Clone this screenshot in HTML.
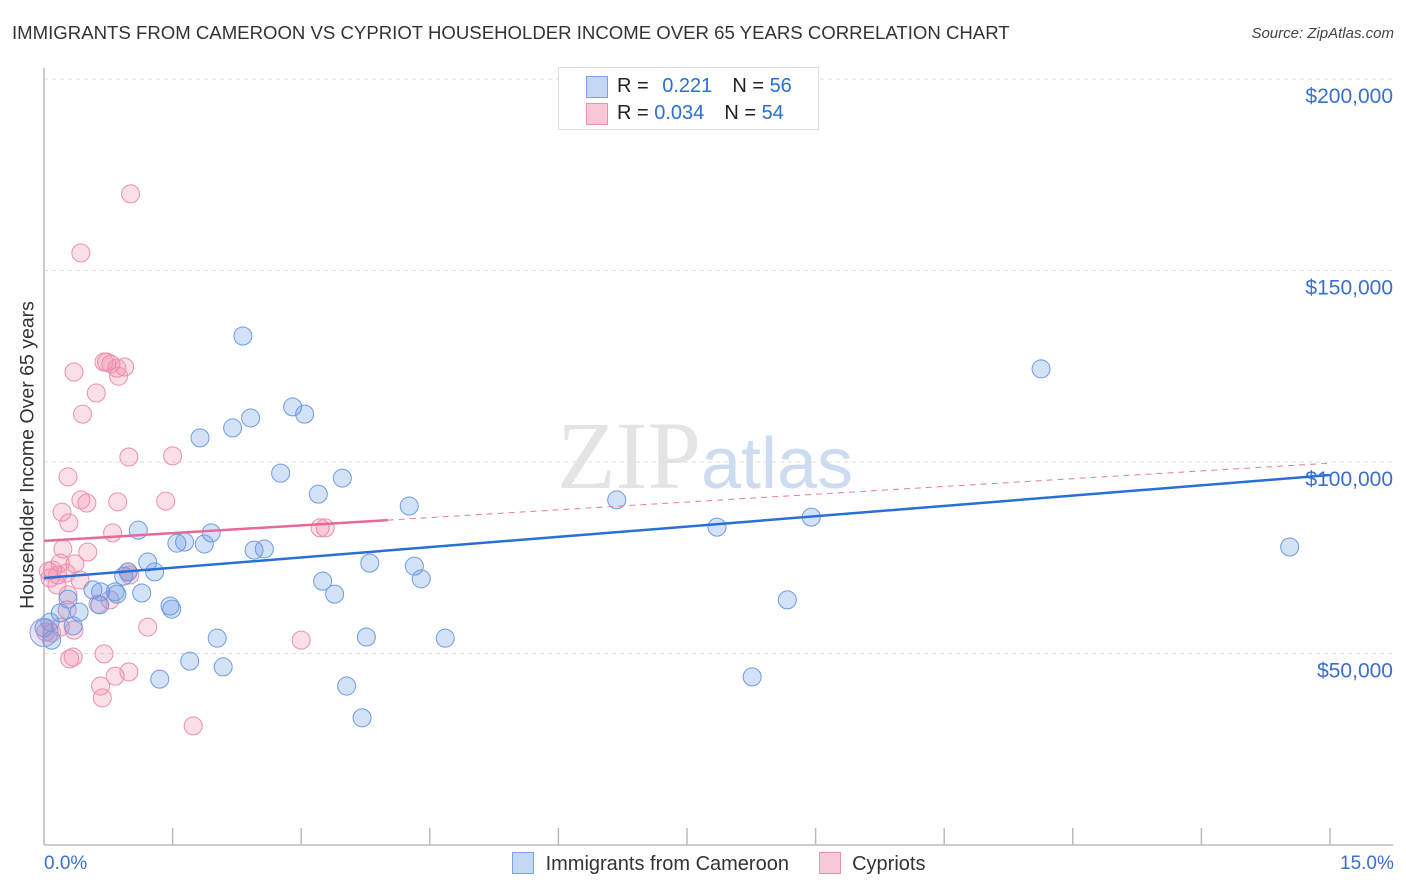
<!DOCTYPE html>
<html><head><meta charset="utf-8"><style>
body{margin:0;background:#fff;font-family:"Liberation Sans",sans-serif;}
#wrap{position:relative;width:1406px;height:892px;overflow:hidden;}
.t{position:absolute;white-space:nowrap;}
</style></head><body>
<div id="wrap">
<div class="t" style="left:12px;top:22px;font-size:18.6px;color:#333;">IMMIGRANTS FROM CAMEROON VS CYPRIOT HOUSEHOLDER INCOME OVER 65 YEARS CORRELATION CHART</div>
<div class="t" style="right:12px;top:25px;font-size:15px;color:#444;font-style:italic;">Source: ZipAtlas.com</div>
<svg id="svg" width="1406" height="892" style="position:absolute;left:0;top:0"></svg>
</div>
<script>
const blueX=[2.32,2.90,3.04,2.41,2.20,1.82,11.63,2.76,3.48,3.20,4.26,6.68,1.10,1.95,1.55,1.64,1.87,2.45,2.57,7.85,8.95,14.53,1.21,1.29,0.93,0.98,3.80,4.32,3.25,4.40,0.57,0.66,0.83,0.85,1.14,3.39,8.67,1.47,1.49,0.28,0.65,0.41,0.19,0.34,2.02,3.76,4.68,0.0,0.07,1.70,2.09,1.35,3.53,8.26,3.71,0.09];
const blueY=[132900,114400,112500,111500,108900,106300,124300,97100,95800,91600,88500,90100,82200,81500,78800,79100,78600,77000,77300,83000,85600,77800,73900,71300,70200,71300,73600,72800,68900,69500,66600,66100,66100,65500,65800,65500,64000,62400,61600,64200,62700,60800,60600,57200,54000,54300,54000,56700,58200,48000,46500,43300,41500,43900,33200,53500];
const pinkX=[1.01,0.43,0.73,0.78,0.35,0.85,0.94,0.87,0.61,0.45,0.99,1.50,0.28,0.43,0.50,1.42,0.86,0.21,0.29,0.80,3.22,3.28,0.22,0.51,0.19,0.36,0.05,0.10,0.16,0.07,0.42,0.15,0.98,1.00,0.28,0.77,0.63,0.27,0.19,0.35,1.21,3.00,0.09,0.70,0.34,0.30,0.83,0.99,0.66,0.68,1.74,0.02,0.26,0.70];
const pinkY=[170000,154600,126100,125600,123500,124500,124800,122400,118000,112500,101300,101600,96100,90100,89300,89800,89600,86900,84100,81500,82800,82800,77300,76500,73600,73400,71500,71800,70500,69700,69200,67900,71300,70500,65300,64000,62900,61400,56900,56100,56900,53500,55400,49900,49100,48600,44100,45200,41500,38400,31100,55600,71000,126100];
const blueTrend=[69700,96600];
const pinkTrend=[79400,99700];
const pinkSolidEnd=4.01;
const yTicks=[50000,100000,150000,200000];
const yTickLabels=["$50,000","$100,000","$150,000","$200,000"];

const X=v=>44+v/15*1286;
const Y=v=>845-v/50000*191.5;
const NS="http://www.w3.org/2000/svg";
const svg=document.getElementById('svg');
function mk(tag,attrs,parent){const e=document.createElementNS(NS,tag);for(const k in attrs)e.setAttribute(k,attrs[k]);(parent||svg).appendChild(e);return e;}

const wm=mk('text',{x:705,y:488,'font-size':96,'text-anchor':'middle','font-family':'Liberation Serif, serif',fill:'#e4e4e4'});


wm.innerHTML='ZIP<tspan fill="#cddcf0" font-family="Liberation Sans, sans-serif" font-size="72">atlas</tspan>';

yTicks.forEach((t,i)=>{
 const g=mk('line',{x1:44,x2:1393,y1:Y(t),y2:Y(t),stroke:'#ddd','stroke-dasharray':'4,4'});
 
 
 const l=mk('text',{x:1393,y:Y(t)+24,'text-anchor':'end','font-size':21,fill:'#3a6fd0'});
 
 
 l.textContent=yTickLabels[i];
});
const ax=mk('line',{x1:44,x2:44,y1:68,y2:845,stroke:'#bbb','stroke-width':1.5});


const bx=mk('line',{x1:44,x2:1393,y1:845,y2:845,stroke:'#bbb','stroke-width':1.5});


for(let i=1;i<=10;i++){
 const tk=mk('line',{x1:X(i*1.5),x2:X(i*1.5),y1:828,y2:845,stroke:'#bbb','stroke-width':1.5});
 
 
}
function pts(xs,ys,fill,stroke,name){
 xs.forEach((x,i)=>{
  const c=mk('circle',{cx:X(x),cy:Y(ys[i]),r:9,fill:fill,stroke:stroke,'stroke-width':1});
  
  
 });
}
pts(pinkX,pinkY,'rgba(240,140,170,0.28)','#e891ad','cypriots-point');
pts(blueX,blueY,'rgba(100,150,230,0.28)','#6d9be0','cameroon-point');
const big=mk('circle',{cx:X(0),cy:Y(55500),r:14,fill:'rgba(150,140,210,0.25)',stroke:'#8a9de0','stroke-width':1});



const pt=v=>pinkTrend[0]+(pinkTrend[1]-pinkTrend[0])*v/15;
const pd=mk('line',{x1:X(pinkSolidEnd),y1:Y(pt(pinkSolidEnd)),x2:X(15),y2:Y(pinkTrend[1]),stroke:'#e87aa0','stroke-width':1,'stroke-dasharray':'6,5'});


const ps=mk('line',{x1:X(0),y1:Y(pinkTrend[0]),x2:X(pinkSolidEnd),y2:Y(pt(pinkSolidEnd)),stroke:'#e8689a','stroke-width':2.5});


const bt=mk('line',{x1:X(0),y1:Y(blueTrend[0]),x2:X(15),y2:Y(blueTrend[1]),stroke:'#2a6fd6','stroke-width':2.5});


</script>
<div class="t" style="left:28px;top:455px;font-size:19.5px;color:#333;transform:translate(-50%,-50%) rotate(-90deg);">Householder Income Over 65 years</div>
<div class="t" style="left:44px;top:853px;font-size:19px;color:#3a6fd0;">0.0%</div>
<div class="t" style="left:1340px;top:853px;font-size:19px;color:#3a6fd0;">15.0%</div>
<div style="position:absolute;left:558px;top:67px;width:259px;height:61px;border:1px solid #ddd;background:#fff;font-size:20px;color:#222;">
 <div style="position:absolute;left:27px;top:8px;width:20px;height:20px;background:#c4d8f6;border:1px solid #7aa3e5;"></div>
 <div class="t" style="left:58px;top:7px;">R = <span style="color:#2a6fd6;margin-left:8px">0.221</span><span style="margin-left:20px">N = </span><span style="color:#2a6fd6">56</span></div>
 <div style="position:absolute;left:27px;top:35px;width:20px;height:20px;background:#f8c8d8;border:1px solid #e891ad;"></div>
 <div class="t" style="left:58px;top:34px;">R = <span style="color:#2a6fd6">0.034</span><span style="margin-left:20px">N = </span><span style="color:#2a6fd6">54</span></div>
</div>
<div style="position:absolute;left:512px;top:852px;font-size:20px;color:#333;">
 <span style="display:inline-block;width:20px;height:20px;background:#c4d8f6;border:1px solid #7aa3e5;vertical-align:-4px;"></span>
 <span style="margin-left:6px">Immigrants from Cameroon</span>
 <span style="display:inline-block;width:20px;height:20px;background:#f8c8d8;border:1px solid #e891ad;vertical-align:-4px;margin-left:24px;"></span>
 <span style="margin-left:6px">Cypriots</span>
</div>
</body></html>
